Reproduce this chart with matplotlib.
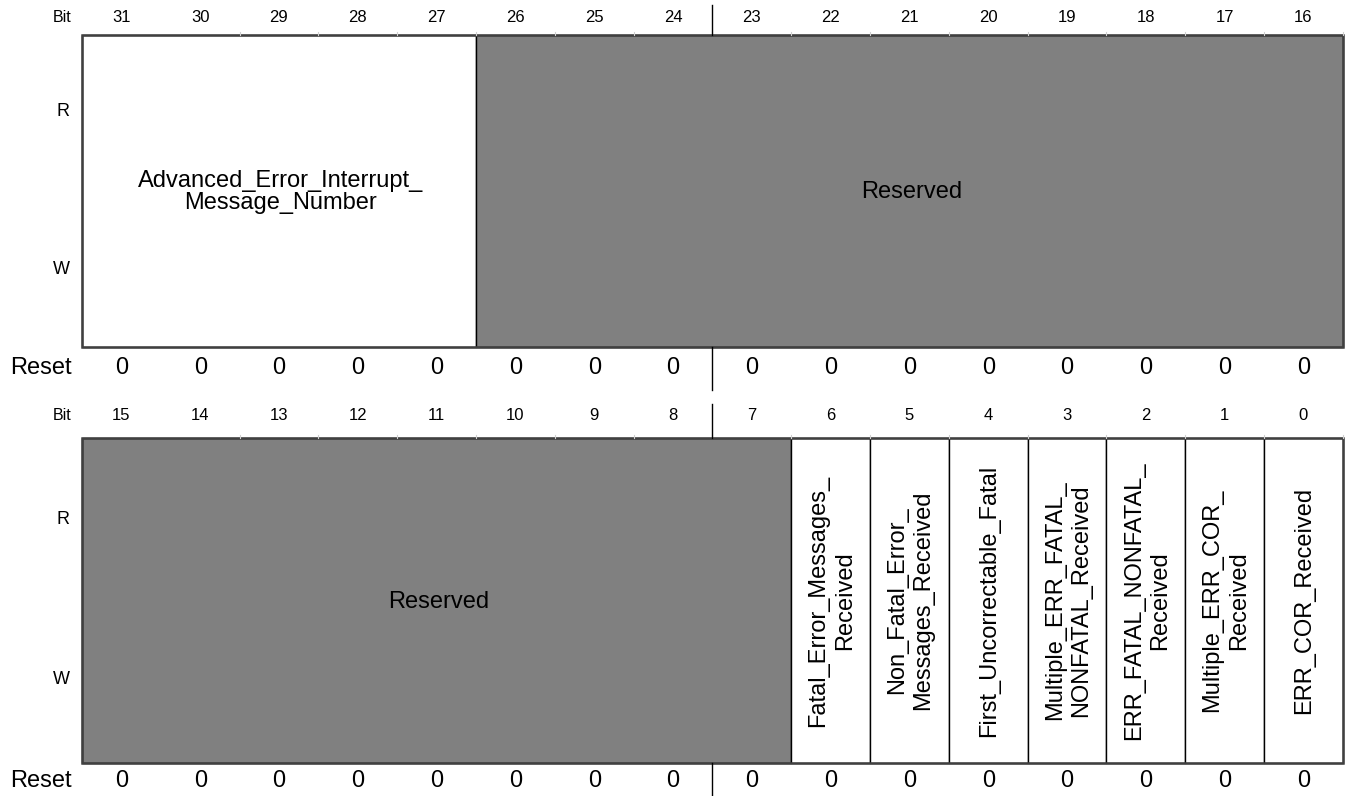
import matplotlib
matplotlib.use('Agg')
import matplotlib.pyplot as plt
from matplotlib.patches import Rectangle

plt.rcParams['font.family'] = ['Liberation Sans', 'DejaVu Sans']

# register fields: (name, msb, lsb, reserved)
fields_hi = [
    ("Advanced_Error_Interrupt_\nMessage_Number", 31, 27, False),
    ("Reserved", 26, 16, True),
]
fields_lo = [
    ("Reserved", 15, 7, True),
    ("Fatal_Error_Messages_\nReceived", 6, 6, False),
    ("Non_Fatal_Error_\nMessages_Received", 5, 5, False),
    ("First_Uncorrectable_Fatal", 4, 4, False),
    ("Multiple_ERR_FATAL_\nNONFATAL_Received", 3, 3, False),
    ("ERR_FATAL_NONFATAL_\nReceived", 2, 2, False),
    ("Multiple_ERR_COR_\nReceived", 1, 1, False),
    ("ERR_COR_Received", 0, 0, False),
]
reset_hi = [0] * 16
reset_lo = [0] * 16

# layout (pixel units)
X0 = 82
CW = 78.8
GRAY = '#808080'
EDGE = '#404040'

fig = plt.figure(figsize=(13.48, 7.96), dpi=100)
ax = fig.add_axes([0, 0, 1, 1])
ax.set_xlim(0, 1348)
ax.set_ylim(796, 0)
ax.axis('off')


def col_x(bit, top_bit):
    return X0 + (top_bit - bit) * CW


def draw_reg(fields, resets, top_bit, y_bit, y_top, y_bot, y_reset, y_r, y_w):
    # bit numbers
    ax.text(72, y_bit, "Bit", ha='right', va='center', fontsize=11.5)
    for i in range(16):
        b = top_bit - i
        ax.text(col_x(b, top_bit) + CW / 2, y_bit, str(b), ha='center',
                va='center', fontsize=12)
        if i > 0:
            x = col_x(b, top_bit) + CW
            ax.plot([x, x], [y_top - 3, y_top], color='#d0d0d0', lw=0.8)
    ax.text(70, y_r, "R", ha='right', va='center', fontsize=13)
    ax.text(70, y_w, "W", ha='right', va='center', fontsize=13)
    # fields
    for name, msb, lsb, res in fields:
        x1 = col_x(msb, top_bit)
        x2 = col_x(lsb, top_bit) + CW
        ax.add_patch(Rectangle((x1, y_top), x2 - x1, y_bot - y_top,
                               facecolor=GRAY if res else 'white',
                               edgecolor='black', lw=1.0))
        xc = (x1 + x2) / 2
        yc = (y_top + y_bot) / 2
        if msb == lsb:
            ax.text(xc + 1, yc, name, ha='center', va='center', rotation=90,
                    multialignment='center', fontsize=17, linespacing=1.25)
        else:
            ax.text(xc + 2, yc + 1, name, ha='center', va='center',
                    multialignment='center', fontsize=17, linespacing=1.0)
    # outer border
    ax.add_patch(Rectangle((X0, y_top), 16 * CW, y_bot - y_top,
                           facecolor='none', edgecolor=EDGE, lw=1.8))
    # byte separator
    xs = X0 + 8 * CW
    ax.plot([xs, xs], [y_bit - 12, y_top], color='black', lw=1.0)
    ax.plot([xs, xs], [y_bot, y_reset + 22], color='black', lw=1.0)
    # reset values
    ax.text(72, y_reset, "Reset", ha='right', va='center', fontsize=17)
    for i, v in enumerate(resets):
        b = top_bit - i
        ax.text(col_x(b, top_bit) + CW / 2, y_reset, str(v), ha='center',
                va='center', fontsize=17)


draw_reg(fields_hi, reset_hi, 31, 17, 35, 347, 368, 112, 270)
draw_reg(fields_lo, reset_lo, 15, 416, 438, 763, 781, 520, 680)

fig.savefig('out.png', dpi=100, facecolor='white')
